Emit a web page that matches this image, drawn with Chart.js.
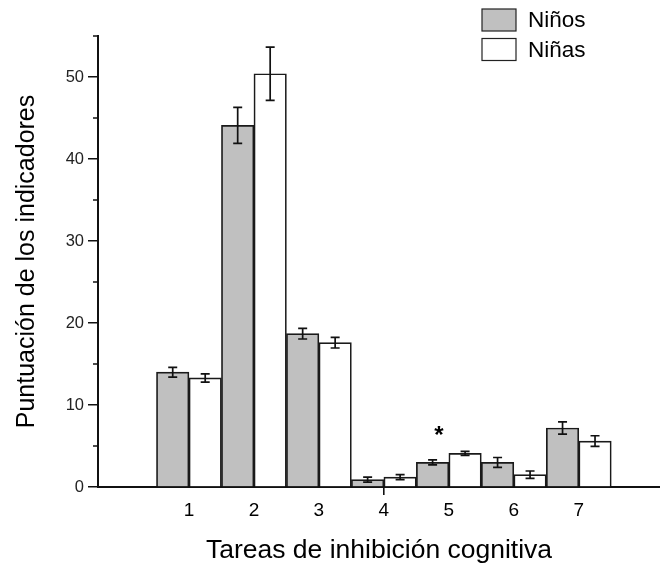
<!DOCTYPE html>
<html>
<head>
<meta charset="utf-8">
<script src="https://cdn.jsdelivr.net/npm/chart.js@4/dist/chart.umd.min.js"></script>
<style>
  html, body { margin: 0; padding: 0; background: #fff; }
  #wrap { width: 660px; height: 567px; }
</style>
</head>
<body>
<div id="wrap"><canvas id="c" width="660" height="567"></canvas></div>
<script>
// Tasks (x axis) and mean scores with their error bars
const tasks = ['1', '2', '3', '4', '5', '6', '7'];
const ninosMean = [14.0, 44.1, 18.7, 0.9, 3.0, 3.0, 7.2];
const ninosErr  = [0.6, 2.2, 0.65, 0.3, 0.3, 0.6, 0.75];
const ninasMean = [13.3, 50.4, 17.6, 1.2, 4.1, 1.5, 5.6];
const ninasErr  = [0.5, 3.25, 0.65, 0.3, 0.25, 0.45, 0.65];
// Tasks with a significant difference between groups
const significant = ['5'];

const FONT = "'Liberation Sans', Arial, sans-serif";

const toPoints = (vals) => vals.map((v, i) => ({ x: i + 1, y: v }));

// Error bars drawn from each bar's centre
const errorBars = {
  id: 'errorBars',
  afterDatasetsDraw(chart) {
    const { ctx } = chart;
    const y = chart.scales.y;
    ctx.save();
    ctx.strokeStyle = '#111';
    ctx.lineWidth = 1.7;
    chart.data.datasets.forEach((ds, di) => {
      const meta = chart.getDatasetMeta(di);
      meta.data.forEach((bar, i) => {
        const v = ds.data[i].y, e = ds.errors[i];
        const yt = y.getPixelForValue(v + e);
        const yb = y.getPixelForValue(v - e);
        const cx = bar.x, hw = 4.5;
        ctx.beginPath();
        ctx.moveTo(cx, yt); ctx.lineTo(cx, yb);
        ctx.moveTo(cx - hw, yt); ctx.lineTo(cx + hw, yt);
        ctx.moveTo(cx - hw, yb); ctx.lineTo(cx + hw, yb);
        ctx.stroke();
      });
    });
    // significance asterisk above the task group
    const m0 = chart.getDatasetMeta(0), m1 = chart.getDatasetMeta(1);
    significant.forEach(t => {
      const i = tasks.indexOf(t);
      const top = Math.max(ninosMean[i] + ninosErr[i], ninasMean[i] + ninasErr[i]);
      const cx = (m0.data[i].x + m1.data[i].x) / 2 - 10;
      const cy = y.getPixelForValue(top) - 22;
      ctx.fillStyle = '#000';
      ctx.font = 'bold 24px ' + FONT;
      ctx.textAlign = 'center';
      ctx.textBaseline = 'alphabetic';
      ctx.fillText('*', cx, cy + 14);
    });
    ctx.restore();
  }
};

// Short minor ticks on the value axis
const minorTicks = {
  id: 'minorTicks',
  afterDraw(chart) {
    const { ctx, chartArea } = chart;
    const y = chart.scales.y;
    ctx.save();
    ctx.strokeStyle = '#111';
    ctx.lineWidth = 1.5;
    y.ticks.forEach(t => {
      if (t.value % 10 !== 0) {
        const py = y.getPixelForValue(t.value);
        ctx.beginPath();
        ctx.moveTo(chartArea.left - 5, py);
        ctx.lineTo(chartArea.left, py);
        ctx.stroke();
      }
    });
    ctx.restore();
  }
};

// Stacked legend in the upper right corner
const boxLegend = {
  id: 'boxLegend',
  afterDraw(chart) {
    const { ctx } = chart;
    ctx.save();
    chart.data.datasets.forEach((ds, i) => {
      const bx = 482, by = 9 + i * 29.5, bw = 34, bh = 22;
      ctx.fillStyle = ds.backgroundColor;
      ctx.fillRect(bx, by, bw, bh);
      ctx.strokeStyle = '#222';
      ctx.lineWidth = 1.2;
      ctx.strokeRect(bx, by, bw, bh);
      ctx.fillStyle = '#000';
      ctx.font = '22.5px ' + FONT;
      ctx.textAlign = 'left';
      ctx.textBaseline = 'middle';
      ctx.fillText(ds.label, bx + 46, by + bh / 2 + 1);
    });
    ctx.restore();
  }
};

new Chart(document.getElementById('c'), {
  type: 'bar',
  data: {
    datasets: [
      {
        label: 'Niños',
        data: toPoints(ninosMean),
        errors: ninosErr,
        backgroundColor: '#c0c0c0',
        borderColor: '#1a1a1a',
        borderWidth: 1.7,
        borderSkipped: 'bottom'
      },
      {
        label: 'Niñas',
        data: toPoints(ninasMean),
        errors: ninasErr,
        backgroundColor: '#ffffff',
        borderColor: '#1a1a1a',
        borderWidth: 1.7,
        borderSkipped: 'bottom'
      }
    ]
  },
  options: {
    responsive: false,
    animation: false,
    events: [],
    layout: { padding: { top: 36, right: 0, left: 0, bottom: 0 } },
    datasets: { bar: { categoryPercentage: 1, barPercentage: 1 } },
    plugins: { legend: { display: false }, tooltip: { enabled: false } },
    scales: {
      x: {
        type: 'linear',
        offset: false,
        min: -0.4,
        max: 8.25,
        afterBuildTicks(scale) {
          scale.ticks = tasks.map((t, i) => ({ value: i + 1 }));
        },
        afterFit(scale) { scale.height = 80; },
        ticks: {
          callback: (v, i) => tasks[i],
          autoSkip: false,
          maxRotation: 0,
          color: '#000',
          padding: 4,
          font: { family: FONT, size: 19 }
        },
        grid: {
          offset: false,
          drawOnChartArea: false,
          tickLength: 8,
          lineWidth: 1.6,
          color: (ctx) => (ctx.tick && ctx.tick.value === 4 ? '#111' : 'rgba(0,0,0,0)')
        },
        border: { display: true, color: '#111', width: 2 },
        title: {
          display: true,
          text: 'Tareas de inhibición cognitiva',
          color: '#000',
          font: { family: FONT, size: 26.5 },
          padding: { top: 0, bottom: 0 }
        }
      },
      y: {
        min: 0,
        max: 55,
        afterFit(scale) { scale.width = 98; },
        ticks: {
          stepSize: 5,
          callback: (v) => (v % 10 === 0 ? String(v) : ''),
          color: '#222',
          padding: 4,
          font: { family: FONT, size: 16.5 }
        },
        grid: {
          drawOnChartArea: false,
          tickLength: 10,
          lineWidth: 1.5,
          color: (ctx) => (ctx.tick && ctx.tick.value % 10 === 0 ? '#111' : 'rgba(0,0,0,0)')
        },
        border: { display: true, color: '#111', width: 2 },
        title: {
          display: true,
          text: 'Puntuación de los indicadores',
          color: '#000',
          font: { family: FONT, size: 25 },
          padding: { top: 12, bottom: 0 }
        }
      }
    }
  },
  plugins: [errorBars, minorTicks, boxLegend]
});
</script>
</body>
</html>
